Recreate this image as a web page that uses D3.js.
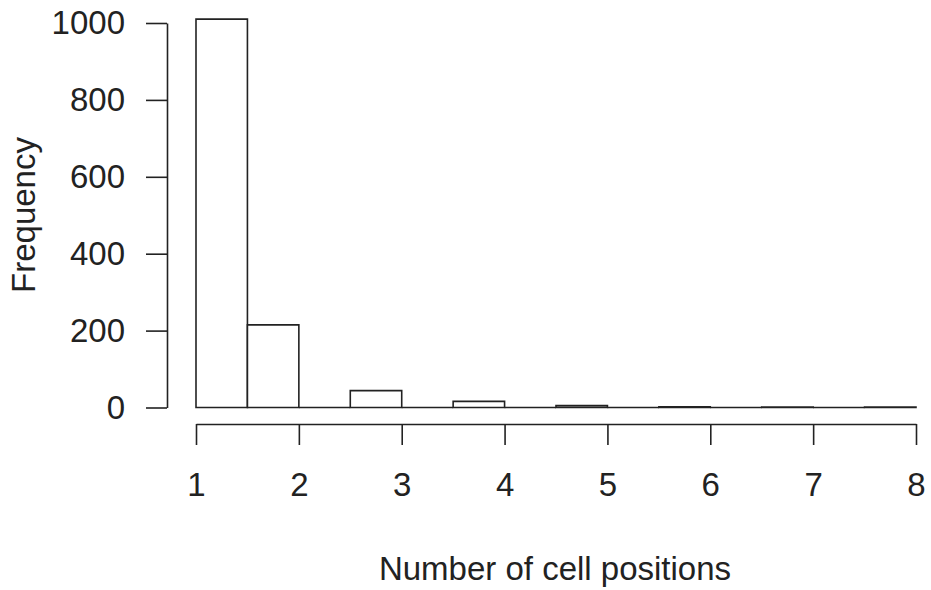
<!DOCTYPE html>
<html>
<head>
<meta charset="utf-8">
<script src="https://cdn.jsdelivr.net/npm/d3@7"></script>
<style>
  body { margin: 0; background: #fff; }
  svg text { font-family: "Liberation Sans", Arial, Helvetica, sans-serif; fill: #222; }
</style>
</head>
<body>
<svg id="chart" width="931" height="590"></svg>
<script>
// histogram bins (breaks every 0.5 from 1 to 8) and counts
const binStarts = [1, 1.5, 2, 2.5, 3, 3.5, 4, 4.5, 5, 5.5, 6, 6.5, 7, 7.5];
const binWidth = 0.5;
const counts = [1010, 215, 0, 44, 0, 16, 0, 5, 0, 2, 0, 1, 0, 1];
const xTicks = [1, 2, 3, 4, 5, 6, 7, 8];
const yTicks = [0, 200, 400, 600, 800, 1000];

const svg = d3.select("#chart");
const ink = "#222";

// scales
const x = d3.scaleLinear().domain([1, 8]).range([196, 916]);
const y = d3.scaleLinear().domain([0, 1000]).range([407.5, 23]);

// bars drawn as closed paths so empty bins still leave a line on the baseline (like R's hist)
svg.append("g").selectAll("path")
    .data(binStarts.map((b, i) => ({ x0: b, x1: b + binWidth, n: counts[i] })))
    .join("path")
    .attr("d", d => {
        const p = d3.path();
        p.moveTo(x(d.x0), y(0));
        p.lineTo(x(d.x0), y(d.n));
        p.lineTo(x(d.x1), y(d.n));
        p.lineTo(x(d.x1), y(0));
        p.closePath();
        return p.toString();
    })
    .attr("fill", "white")
    .attr("stroke", ink)
    .attr("stroke-width", 1.6);

// x axis, R style: offset below the plot
const xAxis = svg.append("g")
    .attr("transform", "translate(0,424)")
    .call(d3.axisBottom(x).tickValues(xTicks).tickFormat(d3.format("d"))
        .tickSize(21).tickPadding(28).tickSizeOuter(0));
xAxis.select(".domain").attr("stroke", ink).attr("stroke-width", 1.6);
xAxis.selectAll(".tick line").attr("stroke", ink).attr("stroke-width", 1.6);
xAxis.selectAll(".tick text").attr("font-size", 33).attr("fill", ink);

// y axis
const yAxis = svg.append("g")
    .attr("transform", "translate(167,0)")
    .call(d3.axisLeft(y).tickValues(yTicks).tickFormat(d3.format("d"))
        .tickSize(21).tickPadding(21).tickSizeOuter(0));
yAxis.select(".domain").attr("stroke", ink).attr("stroke-width", 1.6);
yAxis.selectAll(".tick line").attr("stroke", ink).attr("stroke-width", 1.6);
yAxis.selectAll(".tick text").attr("font-size", 33).attr("fill", ink);

// axis titles
svg.append("text")
    .attr("x", 555)
    .attr("y", 580)
    .attr("text-anchor", "middle")
    .attr("font-size", 33)
    .text("Number of cell positions");

svg.append("text")
    .attr("transform", "translate(35,215) rotate(-90)")
    .attr("text-anchor", "middle")
    .attr("font-size", 33)
    .text("Frequency");
</script>
</body>
</html>
